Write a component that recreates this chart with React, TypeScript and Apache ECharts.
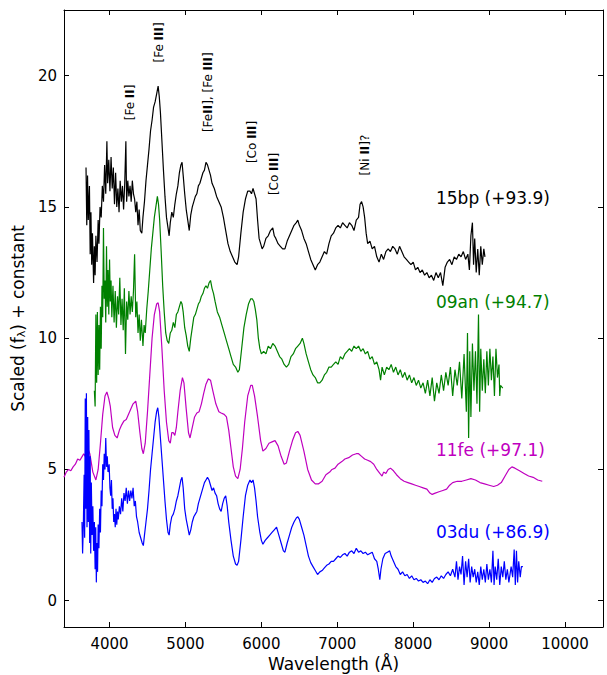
import React, { useEffect, useRef } from "react";
import * as echarts from "echarts";

const FONT = '"DejaVu Sans", "Noto Sans", sans-serif';

// ---- axis ticks ----
const xTicks = [4000, 5000, 6000, 7000, 8000, 9000, 10000];
const yTicks = [0, 5, 10, 15, 20];

// ---- SN 2015bp (+93.9) ----
const wl15bp = [3690,3700,3710,3720,3735,3745,3755,3765,3775,3790,3800,3810,3820,3835,3850,3860,3875,3890,3905,3920,3935,3950,3965,3975,3990,4005,4020,4035,4050,4065,4080,4095,4110,4125,4140,4155,4170,4185,4200,4215,4225,4240,4255,4270,4285,4300,4315,4330,4345,4360,4375,4390,4405,4425,4440,4460,4480,4500,4520,4540,4560,4580,4600,4620,4640,4655,4670,4690,4710,4730,4750,4770,4785,4800,4820,4840,4860,4880,4900,4920,4940,4955,4970,4990,5010,5030,5050,5070,5090,5110,5130,5150,5170,5190,5210,5230,5250,5270,5290,5310,5330,5350,5380,5410,5440,5470,5500,5530,5560,5590,5620,5650,5680,5700,5730,5760,5790,5820,5850,5870,5890,5910,5930,5950,5970,5990,6010,6030,6060,6090,6120,6150,6170,6190,6220,6250,6280,6310,6340,6370,6400,6430,6460,6480,6500,6530,6560,6590,6620,6650,6680,6710,6740,6770,6800,6830,6860,6890,6920,6950,6980,7010,7040,7070,7100,7130,7160,7190,7220,7250,7280,7300,7320,7340,7360,7380,7400,7430,7460,7490,7520,7550,7580,7610,7640,7670,7700,7730,7760,7790,7820,7850,7880,7910,7940,7970,8000,8030,8060,8090,8120,8150,8180,8210,8240,8270,8300,8330,8360,8390,8420,8450,8480,8510,8540,8570,8600,8630,8660,8690,8720,8740,8760,8780,8795,8810,8830,8850,8870,8890,8910,8930,8945];
const flux15bp = [16.5,14.3,16.2,14.5,15.8,13.2,14.8,12.8,14.0,12.1,13.5,12.4,13.9,12.9,14.5,13.6,15.0,14.6,15.8,15.2,16.6,15.5,17.5,15.9,16.8,15.6,16.9,15.7,16.5,15.1,16.3,15.0,15.7,14.8,16.0,15.2,15.8,14.9,15.9,17.5,15.2,16.0,15.4,15.8,15.2,16.0,15.5,15.3,14.8,15.2,14.3,14.9,14.1,14.0,14.6,15.2,16.0,16.6,17.2,17.9,18.3,18.8,19.0,19.3,19.6,19.2,18.6,17.5,16.4,15.4,14.6,14.2,13.9,14.4,14.8,14.6,15.1,15.5,15.8,16.3,16.6,16.7,16.2,15.5,14.9,14.5,14.1,14.7,15.0,15.2,15.4,15.5,15.8,15.9,16.1,16.3,16.4,16.7,16.6,16.4,16.2,15.9,15.7,15.4,15.2,15.0,14.6,14.1,13.6,13.3,13.1,12.9,12.8,13.1,14.0,14.8,15.3,15.6,15.6,15.5,15.7,15.5,15.3,14.5,13.8,13.6,13.4,13.5,13.8,13.9,14.1,14.2,13.9,13.8,13.6,13.5,13.4,13.4,13.7,13.9,14.1,14.3,14.4,14.5,14.3,14.1,13.8,13.6,13.3,13.0,12.8,12.6,12.8,12.9,13.1,13.3,13.2,13.6,13.9,14.0,14.2,14.3,14.2,14.4,14.3,14.2,14.4,14.3,14.1,14.5,14.6,15.1,15.2,15.0,14.6,14.0,13.6,13.7,13.4,13.5,13.1,12.9,13.2,13.0,13.3,13.4,13.3,13.5,13.4,13.2,13.5,13.3,13.1,13.0,12.9,12.8,12.9,12.6,12.7,12.5,12.6,12.4,12.5,12.3,12.4,12.2,12.5,12.3,12.5,12.0,12.7,12.9,13.0,12.8,13.1,13.0,13.2,13.1,13.3,13.0,13.2,12.6,13.9,14.4,12.8,13.8,12.5,13.4,12.4,13.5,12.8,13.4,13.1];

// ---- SN 2009an (+94.7) ----
const wl09an = [3800,3810,3820,3830,3840,3850,3860,3870,3880,3890,3900,3910,3920,3930,3940,3950,3960,3970,3980,3990,4000,4010,4020,4030,4045,4060,4075,4090,4105,4120,4135,4150,4165,4180,4195,4210,4225,4240,4255,4270,4285,4300,4315,4330,4345,4360,4375,4390,4405,4420,4440,4455,4470,4490,4510,4530,4550,4570,4590,4610,4630,4645,4660,4680,4700,4720,4740,4760,4780,4800,4820,4840,4860,4880,4900,4920,4940,4955,4970,4990,5010,5030,5050,5070,5090,5110,5130,5150,5170,5190,5210,5230,5250,5270,5290,5310,5330,5350,5370,5390,5420,5450,5480,5510,5540,5570,5600,5630,5660,5690,5710,5740,5770,5800,5830,5860,5880,5900,5920,5940,5960,5980,6000,6030,6060,6090,6120,6150,6180,6210,6240,6270,6300,6330,6360,6390,6420,6450,6480,6510,6540,6560,6590,6620,6650,6680,6710,6740,6770,6800,6830,6860,6890,6920,6950,6980,7010,7040,7070,7100,7130,7160,7190,7220,7250,7280,7310,7340,7370,7400,7430,7460,7490,7520,7550,7570,7590,7620,7650,7680,7710,7740,7770,7800,7830,7860,7890,7920,7950,7980,8010,8040,8070,8100,8130,8160,8190,8220,8250,8280,8310,8340,8370,8400,8430,8460,8490,8520,8550,8580,8610,8640,8670,8700,8715,8730,8745,8760,8780,8800,8820,8840,8860,8875,8890,8910,8930,8950,8970,8990,9010,9030,9050,9070,9090,9110,9130,9140,9150,9180];
const flux09an = [8.0,7.4,10.9,8.3,11.0,8.6,10.5,8.8,11.2,9.6,12.0,10.8,14.2,11.5,12.2,10.6,13.5,11.2,12.6,10.9,13.0,11.4,12.2,10.8,12.0,10.6,11.8,10.4,11.6,10.9,12.3,10.5,11.5,10.3,11.9,9.4,11.4,10.7,11.8,10.9,11.6,11.0,11.8,13.2,10.8,11.4,10.2,10.9,9.9,10.7,9.7,10.5,10.2,11.1,11.8,12.6,13.4,14.0,14.6,15.0,15.4,15.1,14.5,13.3,12.0,11.0,10.2,9.9,9.8,10.2,10.3,10.6,10.4,10.9,11.0,11.2,11.4,11.3,11.0,10.4,10.1,9.7,9.5,10.0,10.4,10.8,10.9,11.1,11.3,11.4,11.6,11.7,11.9,12.0,11.9,12.1,12.2,11.9,11.7,11.4,11.0,10.8,10.5,10.2,9.9,9.6,9.3,9.0,8.9,8.7,8.8,9.6,10.4,10.9,11.3,11.5,11.5,11.4,11.1,10.7,10.0,9.6,9.4,9.5,9.4,9.7,9.6,9.8,9.7,9.5,9.3,9.2,9.0,8.9,9.0,9.3,9.4,9.6,9.7,9.8,10.0,9.8,9.4,9.1,8.8,8.6,8.5,8.3,8.3,8.4,8.6,8.7,8.9,8.9,9.0,9.1,9.0,9.3,9.2,9.4,9.5,9.6,9.5,9.7,9.6,9.7,9.5,9.6,9.4,9.5,9.2,9.3,9.0,9.1,8.8,8.4,8.9,8.6,8.9,8.8,9.0,8.7,8.9,8.6,8.8,8.5,8.7,8.4,8.6,8.3,8.5,8.2,8.4,8.1,8.3,7.9,8.4,7.8,8.5,7.6,8.3,7.9,8.6,8.0,8.7,8.2,8.9,7.8,8.8,8.2,9.1,7.7,9.4,7.2,10.2,6.2,9.5,7.0,9.8,8.0,9.5,7.5,10.9,7.2,9.6,8.0,9.2,7.9,9.5,8.2,9.6,8.4,9.3,7.8,9.6,8.5,9.0,7.8,8.2,8.1];

// ---- SN 2011fe (+97.1) ----
const wl11fe = [3400,3430,3460,3490,3520,3550,3580,3610,3640,3660,3680,3700,3740,3780,3820,3850,3880,3910,3940,3965,3990,4010,4040,4070,4100,4130,4160,4190,4220,4250,4280,4310,4345,4370,4400,4425,4445,4470,4500,4530,4560,4590,4620,4640,4660,4690,4720,4750,4780,4800,4820,4840,4860,4880,4900,4930,4960,4980,5010,5040,5060,5090,5120,5150,5180,5210,5240,5270,5300,5330,5360,5400,5440,5470,5510,5540,5570,5600,5630,5660,5690,5720,5750,5780,5820,5860,5880,5910,5950,5990,6020,6060,6100,6140,6180,6220,6260,6300,6330,6370,6410,6450,6480,6510,6560,6610,6660,6710,6750,6800,6850,6900,6930,6970,7010,7060,7100,7150,7200,7250,7280,7320,7360,7400,7440,7480,7520,7560,7590,7610,7640,7670,7700,7740,7780,7830,7880,7930,7980,8030,8080,8130,8180,8220,8250,8290,8340,8390,8440,8480,8520,8580,8640,8700,8760,8820,8880,8940,9000,9060,9110,9160,9210,9260,9300,9340,9400,9460,9520,9580,9640,9700];
const flux11fe = [4.7,4.9,5.0,4.95,5.1,5.2,5.4,5.35,5.5,5.6,5.5,5.9,5.6,4.9,4.6,5.0,6.0,7.1,7.8,7.95,7.7,7.4,6.6,6.3,6.2,6.5,6.7,6.85,6.9,7.1,7.3,7.5,7.6,7.2,6.4,5.8,5.6,6.0,7.2,8.6,10.0,10.9,11.3,11.35,11.0,9.6,8.0,6.8,6.1,6.0,6.4,6.4,6.3,6.6,7.2,8.0,8.5,8.3,7.3,6.4,6.2,6.6,7.0,7.15,7.2,7.5,7.9,8.25,8.45,8.4,8.0,7.5,7.2,7.15,7.1,7.0,6.5,5.8,5.1,4.75,4.65,5.0,5.8,6.8,7.8,8.2,8.2,7.8,7.0,6.1,5.7,5.8,6.0,6.05,6.1,5.9,5.5,5.2,5.25,5.7,6.1,6.4,6.45,6.3,5.7,5.0,4.6,4.45,4.45,4.55,4.8,4.9,5.0,5.05,5.2,5.3,5.4,5.45,5.55,5.6,5.6,5.5,5.4,5.35,5.3,5.2,5.0,4.85,4.75,4.9,4.85,5.0,5.05,4.95,4.8,4.65,4.55,4.5,4.45,4.4,4.35,4.3,4.25,4.1,4.05,4.1,4.15,4.2,4.25,4.4,4.5,4.55,4.55,4.6,4.65,4.6,4.5,4.45,4.4,4.35,4.4,4.5,4.75,5.0,5.1,5.05,4.95,4.85,4.75,4.7,4.6,4.55];

// ---- SN 2003du (+86.9) ----
const wl03du = [3637,3645,3655,3665,3672,3680,3688,3695,3703,3712,3720,3728,3738,3745,3752,3760,3770,3780,3790,3800,3810,3818,3826,3834,3842,3850,3860,3870,3880,3890,3900,3910,3920,3930,3940,3950,3960,3970,3980,3995,4005,4015,4025,4035,4045,4055,4065,4075,4085,4095,4105,4115,4130,4145,4160,4175,4190,4205,4220,4235,4250,4265,4280,4295,4310,4325,4340,4355,4370,4390,4410,4430,4445,4460,4480,4500,4520,4540,4560,4580,4600,4620,4635,4650,4670,4690,4710,4730,4750,4770,4785,4800,4820,4840,4860,4880,4900,4920,4940,4955,4970,4990,5010,5030,5050,5070,5090,5110,5130,5150,5170,5190,5210,5230,5250,5270,5290,5310,5330,5350,5370,5390,5410,5430,5450,5470,5490,5510,5530,5550,5570,5600,5630,5660,5680,5700,5730,5760,5790,5820,5850,5870,5890,5910,5930,5950,5980,6000,6020,6050,6080,6110,6140,6170,6200,6230,6260,6290,6310,6340,6370,6400,6430,6460,6480,6500,6530,6560,6590,6620,6650,6680,6710,6740,6770,6800,6830,6860,6890,6920,6950,6980,7010,7040,7070,7100,7130,7160,7190,7220,7250,7280,7310,7340,7370,7400,7430,7460,7490,7520,7540,7560,7575,7600,7630,7660,7690,7710,7740,7770,7800,7830,7860,7890,7920,7950,7980,8010,8040,8070,8100,8130,8160,8190,8220,8250,8280,8310,8340,8370,8400,8430,8460,8490,8520,8550,8570,8590,8610,8630,8650,8670,8690,8710,8730,8750,8770,8790,8810,8830,8850,8870,8890,8910,8930,8950,8970,8990,9010,9030,9050,9065,9080,9100,9120,9140,9160,9180,9200,9220,9240,9260,9290,9310,9330,9345,9360,9375,9390,9410,9425,9445];
const flux03du = [3.0,1.8,2.9,4.8,2.4,7.7,3.5,7.9,2.8,7.0,3.0,6.5,2.2,5.5,1.8,4.5,2.5,3.6,1.9,3.0,1.2,2.8,0.7,2.2,1.1,2.9,2.0,3.5,2.6,4.2,3.6,5.2,4.6,5.6,5.0,6.2,5.1,5.5,4.9,5.2,4.3,4.0,4.6,3.5,3.9,3.0,3.3,2.8,3.5,2.9,3.4,3.1,3.6,3.3,3.9,3.4,4.1,3.8,4.3,3.7,4.2,3.8,4.2,3.9,4.3,3.6,3.8,3.2,3.0,2.6,2.4,2.2,2.1,2.5,3.0,3.5,4.2,5.0,5.6,6.2,6.8,7.2,7.35,7.0,6.2,5.4,4.6,3.8,3.1,2.6,2.5,2.9,3.2,3.3,3.5,3.8,4.0,4.3,4.6,4.7,4.3,3.5,3.1,2.8,2.5,2.7,3.0,3.2,3.3,3.4,3.7,3.9,4.1,4.3,4.5,4.6,4.7,4.6,4.4,4.2,4.3,4.1,4.0,3.7,3.5,3.4,3.7,3.9,4.0,3.6,3.0,2.3,1.7,1.4,1.35,1.5,2.3,3.2,4.0,4.4,4.6,4.5,4.6,4.3,3.8,3.2,2.6,2.3,2.15,2.3,2.4,2.5,2.6,2.7,2.8,2.5,2.2,1.9,1.85,2.2,2.5,2.8,3.0,3.15,3.2,3.1,2.8,2.5,2.1,1.7,1.45,1.3,1.15,1.0,1.1,1.15,1.25,1.35,1.4,1.5,1.5,1.6,1.7,1.65,1.75,1.8,1.7,1.85,1.9,1.8,2.0,1.85,1.9,1.8,1.85,1.75,1.8,1.85,1.6,1.5,1.2,0.8,1.2,1.6,1.8,1.85,1.9,1.7,1.5,1.3,1.2,1.0,1.1,0.95,1.0,0.85,0.95,0.8,0.85,0.75,0.8,0.7,0.75,0.65,0.8,0.7,0.85,0.9,0.8,0.95,0.85,1.0,1.1,0.95,1.2,0.9,1.5,0.8,1.3,1.0,1.7,0.6,1.5,0.9,1.6,0.7,1.3,0.9,1.2,0.7,1.1,0.6,1.3,0.8,1.2,0.7,1.4,0.8,1.2,0.7,1.9,0.6,1.3,0.8,1.6,0.6,1.3,0.9,1.5,0.8,1.2,0.7,1.3,0.9,1.95,0.6,1.9,0.7,1.5,0.9,1.3,1.3];

// ---- series names, colours, label anchors ----
const seriesNames = ["15bp (+93.9)", "09an (+94.7)", "11fe (+97.1)", "03du (+86.9)"];
const seriesColors = ["#000000", "#008000", "#bf00bf", "#0000ff"];
const nameLabelWl = [8300, 8300, 8300, 8300];
const nameLabelFlux = [15.34, 11.38, 5.74, 2.62];

// ---- line identifications (rotated) ----
const lineIdText = ["[Fe {b|II}]", "[Fe {b|III}]", "[Fe{b|II}], [Fe {b|III}]", "[Co {b|III}]", "[Co {b|III}]", "[Ni {b|II}]?"];
const lineIdWl = [4270, 4650, 5296, 5876, 6166, 7364];
const lineIdFlux = [18.3, 20.5, 17.85, 16.67, 15.45, 16.2];

export default function App() {
  const ref = useRef<HTMLDivElement>(null);
  useEffect(() => {
    if (!ref.current) return;
    const chart = echarts.init(ref.current, undefined, { renderer: "svg" });
    const wls = [wl15bp, wl09an, wl11fe, wl03du];
    const fls = [flux15bp, flux09an, flux11fe, flux03du];
    const axisLineStyle = { color: "#000", width: 1 };
    const mkX = (pos: "bottom" | "top", main: boolean) => ({
      type: "value",
      position: pos,
      min: 3400,
      max: 10500,
      axisLine: { show: true, onZero: false, lineStyle: axisLineStyle },
      axisTick: { show: true, inside: true, length: 5, customValues: xTicks, lineStyle: axisLineStyle },
      axisLabel: main
        ? {
            show: true,
            customValues: xTicks,
            color: "#000",
            fontSize: 15,
            fontFamily: FONT,
            margin: 9,
            formatter: (v: number) => String(v),
          }
        : { show: false },
      splitLine: { show: false },
      name: main ? "Wavelength (Å)" : "",
      nameLocation: "middle",
      nameGap: 27,
      nameTextStyle: { color: "#000", fontSize: 17, fontFamily: FONT, verticalAlign: "top" },
    });
    const mkY = (pos: "left" | "right", main: boolean) => ({
      type: "value",
      position: pos,
      min: -1,
      max: 22.5,
      axisLine: { show: true, onZero: false, lineStyle: axisLineStyle },
      axisTick: { show: true, inside: true, length: 5, customValues: yTicks, lineStyle: axisLineStyle },
      axisLabel: main
        ? {
            show: true,
            customValues: yTicks,
            color: "#000",
            fontSize: 15,
            fontFamily: FONT,
            margin: 7,
            formatter: (v: number) => String(v),
          }
        : { show: false },
      splitLine: { show: false },
      name: main ? "Scaled (f{s|λ}) + constant" : "",
      nameLocation: "middle",
      nameGap: 27,
      nameTextStyle: {
        color: "#000",
        fontSize: 17,
        fontFamily: FONT,
        rich: {
          s: { fontSize: 11, fontFamily: FONT, color: "#000", verticalAlign: "bottom", padding: [8, 0, 0, 0] },
        },
      },
    });
    chart.setOption({
      animation: false,
      grid: { left: 64, right: 4, top: 10, bottom: 48, containLabel: false, outerBoundsMode: "none" },
      xAxis: [mkX("bottom", true), mkX("top", false)],
      yAxis: [mkY("left", true), mkY("right", false)],
      series: seriesNames.map((n, k) => ({
        name: n,
        type: "line",
        xAxisIndex: 0,
        yAxisIndex: 0,
        showSymbol: false,
        symbol: "none",
        data: wls[k].map((w, i) => [w, fls[k][i]]),
        lineStyle: { color: seriesColors[k], width: 1.2 },
        itemStyle: { color: seriesColors[k] },
        silent: true,
      })),
    });
    const graphics: any[] = [];
    seriesNames.forEach((n, k) => {
      const p = chart.convertToPixel({ xAxisIndex: 0, yAxisIndex: 0 }, [nameLabelWl[k], nameLabelFlux[k]]);
      graphics.push({
        type: "text",
        x: p[0],
        y: p[1],
        style: {
          text: n,
          fill: seriesColors[k],
          fontSize: 17,
          fontFamily: FONT,
          align: "left",
          textAlign: "left",
          verticalAlign: "middle",
          textVerticalAlign: "middle",
        },
      });
    });
    lineIdText.forEach((t, k) => {
      const p = chart.convertToPixel({ xAxisIndex: 0, yAxisIndex: 0 }, [lineIdWl[k], lineIdFlux[k]]);
      graphics.push({
        type: "text",
        x: p[0],
        y: p[1],
        rotation: Math.PI / 2,
        style: {
          text: t,
          fill: "#000",
          fontSize: 12,
          fontFamily: FONT,
          align: "left",
          textAlign: "left",
          verticalAlign: "middle",
          textVerticalAlign: "middle",
          rich: {
            b: { fontSize: 12, fontWeight: "bold", fontFamily: FONT, fill: "#000" },
          },
        },
      });
    });
    chart.setOption({ graphic: graphics });
    return () => chart.dispose();
  }, []);
  return (
    <div
      ref={ref}
      style={{ position: "absolute", left: 0, top: 0, width: 607, height: 675, background: "#fff" }}
    />
  );
}
